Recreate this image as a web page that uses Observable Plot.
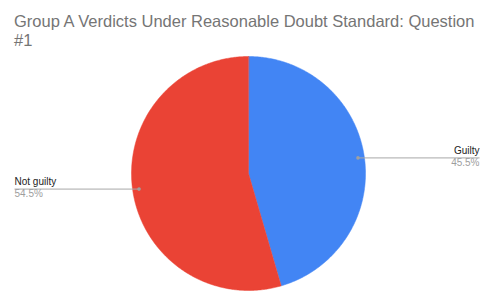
<!DOCTYPE html>
<html>
<head>
<meta charset="utf-8">
<script src="https://cdn.jsdelivr.net/npm/d3@7"></script>
<script src="https://cdn.jsdelivr.net/npm/@observablehq/plot@0.6"></script>
<style>
  html, body { margin: 0; padding: 0; background: #fff; }
  body { width: 482px; height: 291px; overflow: hidden; font-family: "Liberation Sans", Arial, sans-serif; }
  #title { height: 46px; box-sizing: border-box; padding: 12px 0 0 14px; font-size: 16.5px; line-height: 18.5px; color: #757575; white-space: nowrap; }
  #chart svg { display: block; }
</style>
</head>
<body>
<div id="title">Group A Verdicts Under Reasonable Doubt Standard: Question<br>#1</div>
<div id="chart"></div>
<script>
const categories = ["Guilty", "Not guilty"];
const percents = [45.5, 54.5];
const sliceColors = ["#4285f4", "#ea4335"];

const W = 482, H = 245;
const cx = 248, cy = 127, R = 117;

const pie = d3.pie().sort(null).startAngle(0).endAngle(2 * Math.PI)(percents);

// polygon outline points for each slice
const polys = [];
pie.forEach((s, i) => {
  const steps = Math.max(8, Math.ceil((s.endAngle - s.startAngle) / 0.01));
  polys.push({cat: categories[i], x: cx, y: cy});
  for (let k = 0; k <= steps; k++) {
    const a = s.startAngle + (s.endAngle - s.startAngle) * k / steps;
    polys.push({cat: categories[i], x: cx + R * Math.sin(a), y: cy - R * Math.cos(a)});
  }
});

// labels with leader lines
const labels = pie.map((s, i) => {
  const mid = (s.startAngle + s.endAngle) / 2;
  const px = cx + 0.945 * R * Math.sin(mid);
  const py = cy - 0.945 * R * Math.cos(mid);
  const right = Math.sin(mid) > 0;
  return {
    cat: categories[i],
    pct: percents[i].toFixed(1) + "%",
    px, py,
    ex: right ? 479 : 14,
    anchor: right ? "end" : "start"
  };
});

const chart = Plot.plot({
  width: W,
  height: H,
  margin: 0,
  x: {domain: [0, W], range: [0, W], axis: null},
  y: {domain: [0, H], range: [0, H], axis: null},
  color: {domain: categories, range: sliceColors},
  style: {fontFamily: "Liberation Sans, Arial, sans-serif", background: "#fff"},
  marks: [
    Plot.line(polys, {x: "x", y: "y", z: "cat", fill: "cat", stroke: "cat", strokeWidth: 0.5, curve: "linear-closed"}),
    Plot.link(labels, {x1: "px", y1: "py", x2: "ex", y2: "py", stroke: "#a8a8a8", strokeWidth: 1}),
    Plot.dot(labels, {x: "px", y: "py", r: 1.8, fill: "#a0a0a0", stroke: "none"}),
    Plot.text(labels.filter(d => d.anchor === "end"), {x: "ex", y: "py", text: "cat", textAnchor: "end", dy: -7, fontSize: 10, fill: "#222"}),
    Plot.text(labels.filter(d => d.anchor === "end"), {x: "ex", y: "py", text: "pct", textAnchor: "end", dy: 5, fontSize: 10, fill: "#9e9e9e"}),
    Plot.text(labels.filter(d => d.anchor === "start"), {x: "ex", y: "py", text: "cat", textAnchor: "start", dy: -7, fontSize: 10, fill: "#222"}),
    Plot.text(labels.filter(d => d.anchor === "start"), {x: "ex", y: "py", text: "pct", textAnchor: "start", dy: 5, fontSize: 10, fill: "#9e9e9e"})
  ]
});
document.getElementById("chart").appendChild(chart);
</script>
</body>
</html>
